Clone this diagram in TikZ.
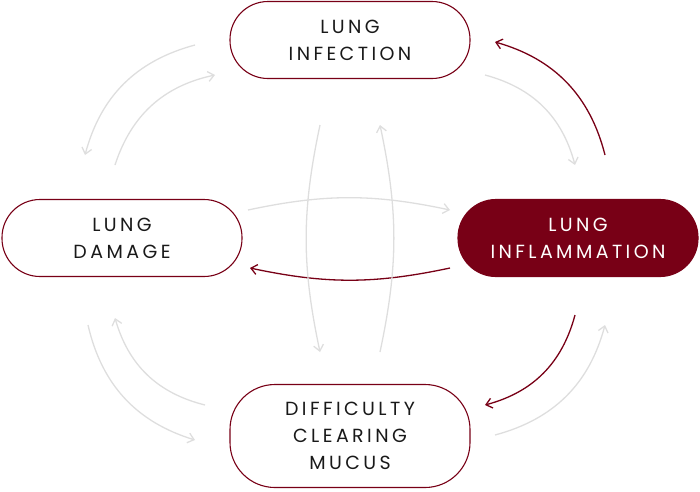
\documentclass[tikz,border=0pt]{standalone}
\usepackage{fontspec}
\setmainfont{Poppins}[LetterSpace=18]
\usetikzlibrary{arrows.meta}
\definecolor{dred}{HTML}{780016}
\definecolor{lgray}{HTML}{DEDEDE}
\begin{document}
\begin{tikzpicture}[x=1pt,y=-1pt,
 box/.style={draw=dred,line width=1.1pt,rounded corners=38pt,minimum width=240pt,minimum height=77pt,align=center,font=\fontsize{19}{27}\selectfont,text=black!90},
 ga/.style={draw=lgray,line width=1.3pt,-{Straight Barb[length=6pt,width=10pt]}},
 ra/.style={draw=dred,line width=1.3pt,-{Straight Barb[length=6pt,width=10pt]}}]
\useasboundingbox (0,0) rectangle (700,491);
\node[box] (inf) at (350,40) {LUNG\\INFECTION};
\node[box] (dam) at (122,238) {LUNG\\DAMAGE};
\node[box,fill=dred,text=white] (infl) at (578,238) {LUNG\\INFLAMMATION};
\node[box,minimum height=103pt,rounded corners=45pt] (dif) at (350,436) {DIFFICULTY\\CLEARING\\MUCUS};
\coordinate (a1) at (195,45); \coordinate (a2) at (85,155);
\coordinate (b1) at (115,165); \coordinate (b2) at (215,75);
\coordinate (c1) at (485,75); \coordinate (c2) at (575,165);
\coordinate (d1) at (605,155); \coordinate (d2) at (495,42);
\coordinate (e1) at (248,210); \coordinate (e2) at (450,210);
\coordinate (f1) at (450,268); \coordinate (f2) at (250,268);
\coordinate (g1) at (320,125); \coordinate (g2) at (320,352);
\coordinate (h1) at (380,352); \coordinate (h2) at (380,125);
\coordinate (i1) at (88,325); \coordinate (i2) at (195,440);
\coordinate (j1) at (205,405); \coordinate (j2) at (115,318);
\coordinate (k1) at (575,315); \coordinate (k2) at (485,405);
\coordinate (l1) at (495,435); \coordinate (l2) at (605,325);
\draw[ga] (a1) to[bend right=30] (a2);
\draw[ga] (b1) to[bend left=30] (b2);
\draw[ga] (c1) to[bend left=30] (c2);
\draw[ra] (d1) to[bend right=30] (d2);
\draw[ga] (e1) to[bend left=12] (e2);
\draw[ra] (f1) to[bend left=12] (f2);
\draw[ga] (g1) to[bend right=12] (g2);
\draw[ga] (h1) to[bend right=12] (h2);
\draw[ga] (i1) to[bend right=30] (i2);
\draw[ga] (j1) to[bend left=30] (j2);
\draw[ra] (k1) to[bend left=30] (k2);
\draw[ga] (l1) to[bend right=30] (l2);
\end{tikzpicture}
\end{document}
